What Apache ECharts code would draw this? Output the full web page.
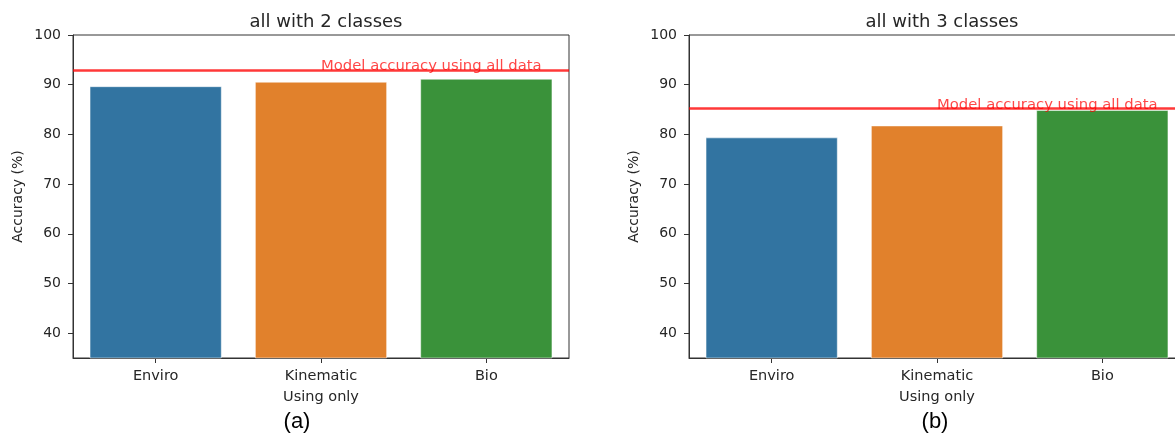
<!DOCTYPE html>
<html>
<head>
<meta charset="utf-8">
<script src="https://cdn.jsdelivr.net/npm/echarts@6/dist/echarts.min.js"></script>
<style>html,body{margin:0;padding:0;background:#fff;overflow:hidden;width:1175px;height:436px}#c{width:1190px;height:436px}</style>
</head>
<body>
<div id="c"></div>
<script>
// ---- data ----
const categories = ['Enviro', 'Kinematic', 'Bio'];
const barColors = ['#3274a1', '#e1812c', '#3a923a'];
const titles = ['all with 2 classes', 'all with 3 classes'];
const panelLabels = ['(a)', '(b)'];
const values2 = [89.7, 90.6, 91.2];
const values3 = [79.4, 81.8, 84.9];
const allData = [93.0, 85.2];
const refLabel = 'Model accuracy using all data';
const refLabelAt = 'Kinematic';
const yTicks = [40, 50, 60, 70, 80, 90, 100];
const yMin = 35, yMax = 100;
const yName = 'Accuracy (%)';
const xName = 'Using only';

const FONT = 'DejaVu Sans';
const TXT = '#262626';
const grids = [
  {left: 73, top: 35, width: 496, height: 323},
  {left: 689, top: 35, width: 496, height: 323}
];
const seriesVals = [values2, values3];

const option = {
  backgroundColor: '#fff',
  animation: false,
  title: [
    ...titles.map((t, i) => ({
      text: t, left: grids[i].left + grids[i].width / 2, top: 8, textAlign: 'center',
      textStyle: {fontFamily: FONT, fontSize: 18, fontWeight: 'normal', color: TXT}
    })),
    ...panelLabels.map((t, i) => ({
      text: t, left: i === 0 ? 292 : 930, top: 406, textAlign: 'center',
      textStyle: {fontFamily: 'Liberation Sans', fontSize: 22, fontWeight: 'normal', color: '#000'}
    }))
  ],
  grid: grids.map(g => Object.assign({show: true, borderColor: '#333', borderWidth: 1, backgroundColor: 'transparent', containLabel: false}, g)),
  xAxis: grids.map((g, i) => ({
    type: 'category', gridIndex: i, data: categories,
    name: xName, nameLocation: 'middle', nameGap: 32,
    nameTextStyle: {fontFamily: FONT, fontSize: 14.5, color: TXT},
    axisLine: {show: true, lineStyle: {color: '#333', width: 1}},
    axisTick: {show: true, alignWithLabel: true, length: 5, lineStyle: {color: '#333'}},
    axisLabel: {fontFamily: FONT, fontSize: 14.5, color: TXT, margin: 11},
    splitLine: {show: false}
  })),
  yAxis: grids.map((g, i) => ({
    type: 'value', gridIndex: i, min: yMin, max: yMax,
    name: yName, nameLocation: 'middle', nameGap: 48, nameRotate: 90,
    nameTextStyle: {fontFamily: FONT, fontSize: 14, color: TXT},
    axisLine: {show: true, lineStyle: {color: '#333', width: 1}},
    axisTick: {show: true, length: 5, customValues: yTicks, lineStyle: {color: '#333'}},
    axisLabel: {fontFamily: FONT, fontSize: 14, color: TXT, margin: 12, customValues: yTicks},
    splitLine: {show: false}
  })),
  series: [
    ...seriesVals.map((vals, i) => ({
      type: 'bar', xAxisIndex: i, yAxisIndex: i,
      barCategoryGap: '20%',
      data: vals.map((v, k) => ({value: v, itemStyle: {color: barColors[k]}})),
      itemStyle: {borderColor: 'rgba(255,255,255,0.5)', borderWidth: 1},
      markLine: {
        silent: true, symbol: 'none', label: {show: false},
        lineStyle: {color: 'rgba(255,0,0,0.78)', width: 2.7, type: 'solid'},
        data: [{yAxis: allData[i]}]
      }
    })),
    ...allData.map((v, i) => ({
      type: 'scatter', xAxisIndex: i, yAxisIndex: i, symbolSize: 0, silent: true, z: 5,
      data: [[refLabelAt, v]],
      label: {
        show: true, formatter: refLabel, position: [0, 4], align: 'left', verticalAlign: 'bottom',
        fontFamily: FONT, fontSize: 14.8, color: 'rgba(255,0,0,0.9)'
      }
    }))
  ]
};
echarts.init(document.getElementById('c'), null, {renderer: 'canvas'}).setOption(option);
</script>
</body>
</html>
